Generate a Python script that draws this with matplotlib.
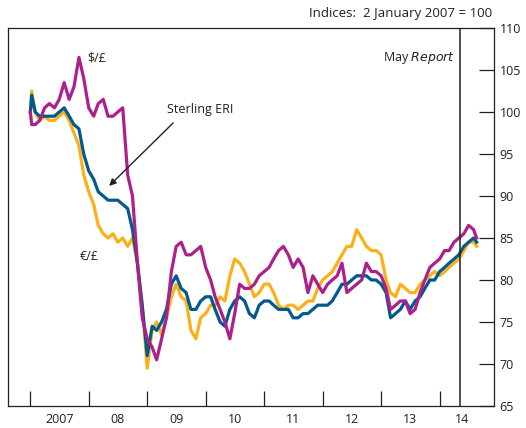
import matplotlib
matplotlib.use("Agg")
import matplotlib.pyplot as plt
import pandas as pd
import numpy as np

plt.rcParams['font.family'] = ['Open Sans', 'DejaVu Sans']

# ---- data (indices: 2 January 2007 = 100) ----
dates = (['2007-01-02', '2007-01-10']
         + [d.strftime('%Y-%m-%d') for d in pd.date_range('2007-02-01', '2014-08-01', freq='MS')]
         + ['2014-08-20'])

usd = [100, 98.5, 98.5, 99, 100.5, 101, 100.5, 101.5, 103.5, 101.5, 103, 106.5, 104,
       100.5, 99.5, 101, 101.5, 99.5, 99.5, 100, 100.5, 92.5, 90, 82, 75.5,
       73, 72, 70.5, 73, 75.5, 81, 84, 84.5, 83, 83, 83.5, 84,
       81.5, 80, 78, 76.5, 75, 73, 76, 79.5, 79, 79, 79.5, 80.5,
       81, 81.5, 82.5, 83.5, 84, 83, 81.5, 82.5, 81.5, 78.5, 80.5, 79.5,
       78.5, 79.5, 80, 80.5, 82, 78.5, 79, 79.5, 80, 82, 81, 81,
       80.5, 79, 76.5, 77, 77.5, 77.5, 76, 76.5, 78.5, 80, 81.5, 82,
       82.5, 83.5, 83.5, 84.5, 85, 85.5, 86.5, 86, 85]

eur = [100, 102.5, 100, 99, 99.5, 99, 99, 99.5, 100, 99, 97.5, 96, 92.5,
       90.5, 89, 86.5, 85.5, 85, 85.5, 84.5, 85, 84, 85, 82, 77,
       69.5, 74, 75, 73.5, 75.5, 78, 79.5, 78, 77.5, 74, 73, 75.5,
       76, 77, 77, 78, 77.5, 80.5, 82.5, 82, 81, 79.5, 78, 78.5,
       79.5, 79.5, 78.5, 77, 76.5, 77, 77, 76.5, 77, 77.5, 77.5, 79,
       80, 80.5, 81, 82, 83, 84, 84, 86, 85, 84, 83.5, 83.5,
       83, 80, 78.5, 78, 79.5, 79, 78.5, 78.5, 79.5, 80, 80.5, 81,
       80.5, 81, 81.5, 82, 82.5, 83.5, 84.5, 84.5, 84]

eri = [100, 102, 100, 99.5, 99.5, 99.5, 99.5, 100, 100.5, 99.5, 98.5, 98, 95,
       93, 92, 90.5, 90, 89.5, 89.5, 89.5, 89, 88.5, 86, 82, 77,
       71, 74.5, 74, 75, 76.5, 79.5, 80.5, 79, 78.5, 76.5, 76.5, 77.5,
       78, 78, 76.5, 75, 74.5, 76.5, 77.5, 78, 77.5, 76, 75.5, 77,
       77.5, 77.5, 77, 76.5, 76.5, 76.5, 75.5, 75.5, 76, 76, 76.5, 77,
       77, 77, 77.5, 78.5, 79.5, 79.5, 80, 80.5, 80.5, 80.5, 80, 80,
       79.5, 78.5, 75.5, 76, 76.5, 77.5, 76.5, 77.5, 78, 79, 80, 80,
       81, 81.5, 82, 82.5, 83, 84, 84.5, 85, 84.5]

year_labels = ['2007', '08', '09', '10', '11', '12', '13', '14']
y_ticks = [65, 70, 75, 80, 85, 90, 95, 100, 105, 110]
report_date = '2014-05-08'

# ---- helpers ----
def to_year(s):
    d = pd.Timestamp(s)
    start = pd.Timestamp(year=d.year, month=1, day=1)
    end = pd.Timestamp(year=d.year + 1, month=1, day=1)
    return d.year + (d - start) / (end - start)

x = np.array([to_year(d) for d in dates])

C_BLUE = '#005a8c'
C_ORANGE = '#fbb019'
C_MAG = '#ad1f8a'
C_TXT = '#231f20'

fig = plt.figure(figsize=(5.26, 4.28), dpi=100)
ax = fig.add_axes([8 / 526, 22 / 428, 486 / 526, 378 / 428])

lw = 2.3
ax.plot(x, eur, color=C_ORANGE, lw=lw, solid_joinstyle='round', zorder=3)
ax.plot(x, eri, color=C_BLUE, lw=lw, solid_joinstyle='round', zorder=4)
ax.plot(x, usd, color=C_MAG, lw=lw, solid_joinstyle='round', zorder=5)

ax.set_xlim(2006.62, 2014.93)
ax.set_ylim(65, 110)

# report line
ax.axvline(to_year(report_date), color=C_TXT, lw=1.1, zorder=6)

# axes styling
for sp in ax.spines.values():
    sp.set_color(C_TXT)
    sp.set_linewidth(0.9)

ax.yaxis.tick_right()
ax.set_yticks(y_ticks)
ax.set_yticklabels([str(v) for v in y_ticks])
ax.tick_params(axis='y', direction='in', length=11, width=0.9, color=C_TXT,
               labelsize=9, labelcolor=C_TXT, pad=4)
ax.tick_params(axis='y', which='both', left=False, labelleft=False)

major = list(range(2007, 2015))
ax.set_xticks(major)
ax.set_xticklabels([''] * len(major))
ax.tick_params(axis='x', which='major', direction='in', length=11, width=0.9, color=C_TXT)
label_pos = [yr + 0.5 for yr in range(2007, 2014)] + [2014.385]
ax.set_xticks(label_pos, minor=True)
ax.set_xticklabels(year_labels, minor=True)
ax.tick_params(axis='x', which='minor', length=0, labelsize=9, labelcolor=C_TXT, pad=5)

# annotations
fig.text(492 / 526, 1 - 13 / 428, 'Indices:  2 January 2007 = 100', ha='right', va='center',
         fontsize=9.5, color=C_TXT)
ax.text(2014.265, 106.4, 'May $\\it{Report}$', ha='right', va='center', fontsize=9, color=C_TXT)
ax.text(2007.98, 106.4, '$/£', ha='left', va='center', fontsize=9, color=C_TXT)
ax.text(2009.34, 100.3, 'Sterling ERI', ha='left', va='center', fontsize=9, color=C_TXT)
ax.text(2007.85, 82.8, '€/£', ha='left', va='center', fontsize=9, color=C_TXT)
ax.annotate('', xy=(2008.35, 91.2), xytext=(2009.444, 98.7),
            arrowprops=dict(arrowstyle='-|>', color=C_TXT, lw=1.0, mutation_scale=10,
                            shrinkA=0, shrinkB=0),
            zorder=7)

fig.savefig('out.png', dpi=100)
